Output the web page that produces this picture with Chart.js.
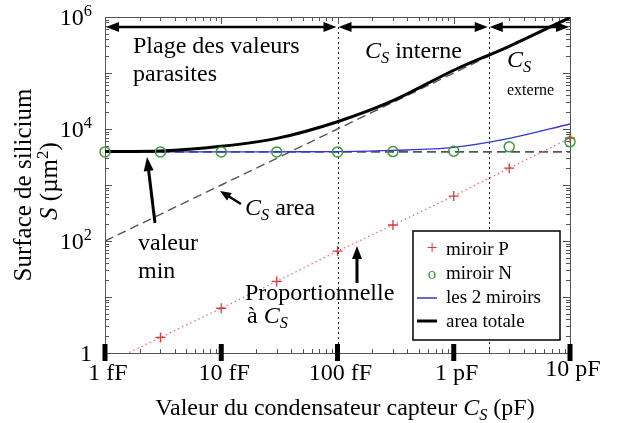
<!DOCTYPE html>
<html>
<head>
<meta charset="utf-8">
<script src="https://cdn.jsdelivr.net/npm/chart.js@4.4.1/dist/chart.umd.min.js"></script>
<style>
  html, body { margin: 0; padding: 0; background: #fff; }
  canvas { display: block; }
</style>
</head>
<body>
<canvas id="chart" width="618" height="423"></canvas>
<script>
// Capacités (fF) où les points sont calculés
const capsFF = [1, 3, 10, 30, 100, 300, 1000, 3000, 10000];
// Surfaces (µm²)
const miroirP = [0.63, 1.9, 6.3, 19, 66, 193, 635, 2000, 6900];
const miroirN = [3900, 3900, 3900, 3900, 3900, 3950, 4000, 4800, 5900];
const lesDeuxMiroirs = [3900, 3900, 3900, 3920, 3960, 4150, 4700, 6800, 12300];
const areaTotale = [3950, 4050, 4900, 6800, 13500, 32000, 112000, 300000, 980000];
const csArea = [100, 300, 1000, 3000, 10000, 30000, 100000, 300000, 1000000];
const niveauMin = [3900, 3900, 3900, 3900, 3900, 3900, 3900, 3900, 3900];

// Limites des zones (fF)
const regionEdgesFF = [1, 100, 2000, 10000];

// Graduations
const xTickValues = [1, 10, 100, 1000, 10000];
const xTickLabels = ['1 fF', '10 fF', '100 fF', '1 pF', '10 pF'];
const yTickValues = [1, 100, 10000, 1000000];
const yTickBase = ['1', '10', '10', '10'];
const yTickExp = ['', '2', '4', '6'];

const SERIF = '"Liberation Serif", "Times New Roman", serif';
const C_S = [{ t: 'C', it: true }, { t: 'S', it: true, sub: true }];

const pts = vals => capsFF.map((c, i) => ({ x: c, y: vals[i] }));

/** Draw a run of text parts (italic / subscript / superscript) starting at x. */
function richText(ctx, x, y, parts, size, align) {
  const fontOf = p => {
    const s = p.sub || p.sup ? size * 0.68 : (p.size || size);
    return (p.it ? 'italic ' : '') + s + 'px ' + SERIF;
  };
  let total = 0;
  parts.forEach(p => { ctx.font = fontOf(p); total += ctx.measureText(p.t).width; });
  let cx = x;
  if (align === 'center') cx = x - total / 2;
  if (align === 'right') cx = x - total;
  ctx.textAlign = 'left';
  ctx.textBaseline = 'alphabetic';
  parts.forEach(p => {
    ctx.font = fontOf(p);
    let dy = 0;
    if (p.sub) dy = size * 0.22;
    if (p.sup) dy = -size * 0.38;
    ctx.fillText(p.t, cx, y + dy);
    cx += ctx.measureText(p.t).width;
  });
  return total;
}

function arrowHead(ctx, x1, y1, x2, y2, len, half) {
  const a = Math.atan2(y2 - y1, x2 - x1);
  ctx.beginPath();
  ctx.moveTo(x2, y2);
  ctx.lineTo(x2 - len * Math.cos(a) + half * Math.sin(a), y2 - len * Math.sin(a) - half * Math.cos(a));
  ctx.lineTo(x2 - len * Math.cos(a) - half * Math.sin(a), y2 - len * Math.sin(a) + half * Math.cos(a));
  ctx.closePath();
  ctx.fill();
}

function arrow(ctx, x1, y1, x2, y2, width, len, half) {
  const a = Math.atan2(y2 - y1, x2 - x1);
  ctx.lineWidth = width;
  ctx.beginPath();
  ctx.moveTo(x1, y1);
  ctx.lineTo(x2 - len * 0.7 * Math.cos(a), y2 - len * 0.7 * Math.sin(a));
  ctx.stroke();
  arrowHead(ctx, x1, y1, x2, y2, len, half);
}

const decorPlugin = {
  id: 'decor',
  beforeDraw(chart) {
    const ctx = chart.ctx;
    ctx.save();
    ctx.fillStyle = '#fff';
    ctx.fillRect(0, 0, chart.width, chart.height);
    ctx.restore();
  },
  beforeDatasetsDraw(chart) {
    const { ctx, chartArea: a } = chart;
    const xs = chart.scales.x, ys = chart.scales.y;
    ctx.save();
    // séparations des zones
    ctx.strokeStyle = '#222';
    ctx.lineWidth = 1;
    ctx.setLineDash([2, 3]);
    regionEdgesFF.slice(1, -1).forEach(v => {
      const px = Math.round(xs.getPixelForValue(v)) + 0.5;
      ctx.beginPath();
      ctx.moveTo(px, a.top);
      ctx.lineTo(px, a.bottom);
      ctx.stroke();
    });
    ctx.setLineDash([]);

    // cadre et graduations
    ctx.strokeStyle = '#555';
    ctx.lineWidth = 1;
    ctx.strokeRect(a.left + 0.5, a.top + 0.5, a.right - a.left, a.bottom - a.top);
    ctx.beginPath();
    for (let d = 0; d < 4; d++) {
      for (let m = 2; m <= 9; m++) {
        const px = Math.round(xs.getPixelForValue(m * Math.pow(10, d))) + 0.5;
        ctx.moveTo(px, a.bottom); ctx.lineTo(px, a.bottom - 4);
        ctx.moveTo(px, a.top); ctx.lineTo(px, a.top + 4);
      }
    }
    for (let d = 0; d < 6; d++) {
      for (let m = 1; m <= 9; m++) {
        const len = m === 1 ? 7 : 4;
        const py = Math.round(ys.getPixelForValue(m * Math.pow(10, d))) + 0.5;
        ctx.moveTo(a.left, py); ctx.lineTo(a.left + len, py);
        ctx.moveTo(a.right, py); ctx.lineTo(a.right - len, py);
      }
    }
    xTickValues.forEach(v => {
      const px = Math.round(xs.getPixelForValue(v)) + 0.5;
      ctx.moveTo(px, a.top); ctx.lineTo(px, a.top + 7);
    });
    ctx.stroke();
    ctx.restore();
  },
  afterDatasetsDraw(chart) {
    const { ctx, chartArea: a } = chart;
    const xs = chart.scales.x, ys = chart.scales.y;
    ctx.save();
    ctx.fillStyle = '#000';
    ctx.strokeStyle = '#000';

    // grosses graduations de l'axe x
    xTickValues.forEach(v => {
      const px = xs.getPixelForValue(v);
      ctx.fillRect(px - 2.5, a.bottom - 9, 5, 17);
    });

    // étiquettes x
    xTickValues.forEach((v, i) => {
      const px = xs.getPixelForValue(v);
      const dy = i === xTickLabels.length - 1 ? -4 : 0;
      richText(ctx, px + 3, a.bottom + 27 + dy, [{ t: xTickLabels[i] }], 24, 'center');
    });

    // étiquettes y
    yTickValues.forEach((v, i) => {
      const py = ys.getPixelForValue(v);
      const parts = [{ t: yTickBase[i] }];
      if (yTickExp[i]) parts.push({ t: yTickExp[i], sup: true });
      richText(ctx, a.left - 13, py + 8, parts, 24, 'right');
    });

    // titres des axes
    richText(ctx, 345, 415, [{ t: 'Valeur du condensateur capteur ' }, ...C_S, { t: ' (pF)' }], 24, 'center');
    ctx.save();
    ctx.translate(31, 185);
    ctx.rotate(-Math.PI / 2);
    richText(ctx, 0, 0, [{ t: 'Surface de silicium' }], 25, 'center');
    ctx.restore();
    ctx.save();
    ctx.translate(57, 181);
    ctx.rotate(-Math.PI / 2);
    richText(ctx, 0, 0, [{ t: 'S', it: true }, { t: ' (µm' }, { t: '2', sup: true }, { t: ')' }], 25, 'center');
    ctx.restore();

    // flèches doubles des zones
    const yArrow = 27;
    for (let i = 0; i < regionEdgesFF.length - 1; i++) {
      const x1 = xs.getPixelForValue(regionEdgesFF[i]);
      const x2 = xs.getPixelForValue(regionEdgesFF[i + 1]);
      ctx.lineWidth = 2.5;
      ctx.beginPath();
      ctx.moveTo(x1 + 8, yArrow);
      ctx.lineTo(x2 - 8, yArrow);
      ctx.stroke();
      arrowHead(ctx, x2, yArrow, x1 + 1, yArrow, 13, 5);
      arrowHead(ctx, x1, yArrow, x2 - 1, yArrow, 13, 5);
    }

    // annotations
    richText(ctx, 133, 53, [{ t: 'Plage des valeurs' }], 24);
    richText(ctx, 133, 81, [{ t: 'parasites' }], 24);
    richText(ctx, 365, 58, [...C_S, { t: ' interne' }], 24);
    richText(ctx, 507, 67, C_S, 24);
    richText(ctx, 507, 95, [{ t: 'externe' }], 16);
    richText(ctx, 245, 215, [...C_S, { t: ' area' }], 24);
    richText(ctx, 138, 250, [{ t: 'valeur' }], 24);
    richText(ctx, 138, 278, [{ t: 'min' }], 24);
    richText(ctx, 245, 300, [{ t: 'Proportionnelle' }], 24);
    richText(ctx, 247, 323, [{ t: 'à ' }, ...C_S], 24);

    arrow(ctx, 155, 223, 147, 157, 3, 14, 5);
    arrow(ctx, 241, 204, 220, 191, 2.5, 11, 4.5);
    arrow(ctx, 357, 283, 357, 246, 3, 13, 5);

    // légende
    const lx = 413, ly = 231, lw = 147, lh = 109;
    ctx.fillStyle = '#fff';
    ctx.fillRect(lx, ly, lw, lh);
    ctx.lineWidth = 1.5;
    ctx.strokeStyle = '#000';
    ctx.strokeRect(lx, ly, lw, lh);
    const rows = [255, 279, 303, 327];
    ctx.fillStyle = '#d63a3a';
    richText(ctx, 432, rows[0] - 1, [{ t: '+' }], 19, 'center');
    ctx.fillStyle = '#3f9a3f';
    richText(ctx, 432, rows[1], [{ t: 'o' }], 17, 'center');
    ctx.strokeStyle = '#3535d0';
    ctx.lineWidth = 1.5;
    ctx.beginPath(); ctx.moveTo(417, rows[2] - 5); ctx.lineTo(437, rows[2] - 5); ctx.stroke();
    ctx.strokeStyle = '#000';
    ctx.lineWidth = 3;
    ctx.beginPath(); ctx.moveTo(417, rows[3] - 6); ctx.lineTo(437, rows[3] - 6); ctx.stroke();
    ctx.fillStyle = '#000';
    ['miroir P', 'miroir N', 'les 2 miroirs', 'area totale'].forEach((t, i) => {
      richText(ctx, 446, rows[i], [{ t }], 19);
    });
    ctx.restore();
  },
};

new Chart(document.getElementById('chart'), {
  type: 'line',
  data: {
    datasets: [
      {
        label: 'miroir N',
        data: pts(miroirN),
        showLine: false,
        pointStyle: 'circle',
        pointRadius: 5,
        pointBorderWidth: 1.5,
        pointBorderColor: '#3f9a3f',
        pointBackgroundColor: 'rgba(0,0,0,0)',
        clip: { left: 10, right: 10, top: 10, bottom: 10 },
        order: 1,
      },
      {
        label: 'area totale',
        data: pts(areaTotale),
        borderColor: '#000',
        borderWidth: 3,
        pointRadius: 0,
        cubicInterpolationMode: 'monotone',
        order: 2,
      },
      {
        label: 'miroir P',
        data: pts(miroirP),
        borderColor: '#e06a6a',
        borderWidth: 1.2,
        borderDash: [1.5, 3],
        pointStyle: 'cross',
        pointRadius: capsFF.map(c => (c < 2 ? 0 : 5)),
        pointBorderWidth: 1.3,
        pointBorderColor: '#d63a3a',
        clip: { left: 10, right: 10, top: 0, bottom: 0 },
        order: 3,
      },
      {
        label: 'les 2 miroirs',
        data: pts(lesDeuxMiroirs),
        borderColor: '#3535d0',
        borderWidth: 1.3,
        pointRadius: 0,
        cubicInterpolationMode: 'monotone',
        order: 4,
      },
      {
        label: 'niveau min',
        data: pts(niveauMin),
        borderColor: '#555',
        borderWidth: 1.6,
        borderDash: [9, 5],
        pointRadius: 0,
        order: 5,
      },
      {
        label: 'CS area',
        data: pts(csArea),
        borderColor: '#555',
        borderWidth: 1.4,
        borderDash: [9, 5],
        pointRadius: 0,
        order: 6,
      },
    ],
  },
  options: {
    responsive: false,
    animation: false,
    events: [],
    layout: { padding: { left: 105, right: 48, top: 17, bottom: 70 } },
    plugins: { legend: { display: false }, tooltip: { enabled: false } },
    scales: {
      x: { type: 'logarithmic', min: 1, max: 10000, display: false },
      y: { type: 'logarithmic', min: 1, max: 1000000, display: false },
    },
  },
  plugins: [decorPlugin],
});
</script>
</body>
</html>
